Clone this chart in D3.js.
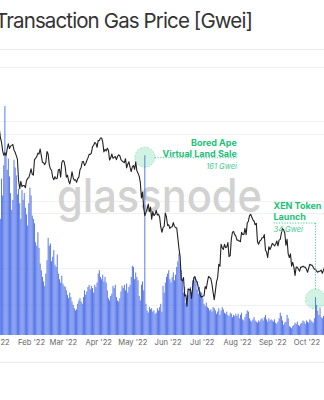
<!DOCTYPE html>
<html>
<head>
<meta charset="utf-8">
<script src="https://cdn.jsdelivr.net/npm/d3@7"></script>
<style>
  html, body { margin: 0; padding: 0; background: #fff; overflow: hidden; }
  svg { display: block; font-family: Inter, "Noto Sans", sans-serif; }
</style>
</head>
<body>
<svg id="chart" width="324" height="400"></svg>
<script>
// Daily mean transaction gas price [Gwei], one array per month (2022)
const gasJan = [128, 135, 122, 110, 104, 140, 125, 152, 205, 160, 148, 158, 142, 127, 112, 121, 157, 150, 143, 126, 131, 118, 104, 130, 121, 127, 114, 108, 98, 118, 132];
const gasFeb = [125, 107, 104, 100, 83, 80, 92, 78, 64, 58, 52, 48, 44, 55, 67, 87, 80, 82, 66, 70, 76, 63, 61, 72, 55, 50, 47, 53];
const gasMar = [46, 44, 43, 40, 36, 33, 38, 34, 30, 27, 24, 22, 23, 28, 31, 33, 30, 28, 34, 40, 36, 39, 43, 45, 41, 44, 42, 38, 45, 43, 47];
const gasApr = [55, 58, 52, 50, 54, 48, 52, 47, 40, 33, 31, 35, 37, 44, 42, 45, 34, 31, 30, 33, 39, 44, 42, 45, 40, 46, 38, 43, 45, 52];
const gasMay = [62, 61, 50, 56, 52, 49, 35, 31, 45, 48, 40, 161, 28, 22, 20, 25, 23, 24, 21, 22, 19, 20, 24, 22, 25, 28, 21, 44, 38, 47, 52];
const gasJun = [55, 58, 50, 47, 52, 56, 49, 54, 61, 66, 73, 64, 58, 49, 38, 43, 29, 34, 36, 41, 43, 38, 49, 52, 48, 50, 41, 37, 43, 39];
const gasJul = [38, 33, 28, 26, 29, 25, 24, 22, 23, 21, 25, 24, 22, 19, 21, 24, 18, 22, 25, 23, 20, 19, 21, 18, 17, 20, 19, 16, 18, 17, 19];
const gasAug = [17, 19, 15, 18, 20, 14, 13, 16, 19, 22, 21, 15, 13, 12, 14, 16, 13, 12, 11, 13, 12, 14, 15, 13, 16, 18, 14, 12, 15, 13, 14];
const gasSep = [13, 12, 14, 11, 10, 12, 15, 20, 17, 13, 9, 11, 12, 18, 15, 8, 7, 6, 8, 9, 11, 10, 12, 9, 8, 10, 11, 13, 12, 10];
const gasOct = [13, 12, 11, 14, 13, 12, 11, 15, 34, 27, 22, 18, 24, 16, 15, 17, 19];

// Daily ETH price [USD], one array per month (2022)
const ethJan = [3770, 3830, 3760, 3790, 3540, 3410, 3200, 3090, 3150, 3080, 3240, 3370, 3250, 3310, 3330, 3350, 3210, 3160, 3080, 3000, 2560, 2400, 2540, 2440, 2460, 2460, 2420, 2550, 2600, 2610, 2690];
const ethFeb = [2790, 2680, 2660, 2990, 3020, 3060, 3140, 3120, 3240, 3080, 2930, 2920, 2880, 2930, 3180, 3120, 2880, 2790, 2760, 2620, 2570, 2630, 2590, 2600, 2770, 2780, 2620, 2920];
const ethMar = [2970, 2950, 2830, 2620, 2660, 2550, 2490, 2580, 2730, 2610, 2560, 2570, 2520, 2590, 2620, 2770, 2820, 2940, 2950, 2860, 2900, 2970, 3030, 3110, 3110, 3140, 3300, 3330, 3400, 3380, 3280];
const ethApr = [3450, 3450, 3520, 3520, 3410, 3170, 3230, 3190, 3260, 3210, 2980, 3030, 3120, 3020, 3040, 3060, 2990, 3060, 3100, 3080, 2990, 2960, 2940, 2920, 3010, 2810, 2890, 2940, 2820, 2730];
const ethMay = [2830, 2860, 2780, 2940, 2750, 2700, 2640, 2520, 2240, 2340, 2080, 1960, 2010, 2060, 2140, 2020, 2090, 1910, 2020, 1960, 1980, 2040, 1970, 1980, 1940, 1800, 1730, 1790, 1810, 2000, 1940];
const ethJun = [1820, 1830, 1780, 1800, 1800, 1860, 1810, 1790, 1790, 1660, 1530, 1440, 1210, 1200, 1230, 1070, 1080, 990, 1130, 1120, 1130, 1050, 1140, 1220, 1240, 1200, 1190, 1140, 1100, 1070];
const ethJul = [1060, 1070, 1070, 1150, 1130, 1190, 1240, 1230, 1220, 1170, 1100, 1040, 1110, 1190, 1230, 1360, 1340, 1580, 1540, 1520, 1580, 1540, 1550, 1600, 1440, 1450, 1640, 1730, 1740, 1700, 1680];
const ethAug = [1630, 1630, 1620, 1610, 1730, 1700, 1700, 1780, 1700, 1850, 1880, 1960, 1980, 1940, 1900, 1880, 1830, 1850, 1610, 1580, 1620, 1630, 1660, 1660, 1700, 1510, 1490, 1430, 1550, 1520, 1550];
const ethSep = [1590, 1580, 1560, 1580, 1620, 1560, 1630, 1640, 1720, 1780, 1760, 1720, 1570, 1640, 1470, 1430, 1470, 1340, 1380, 1330, 1250, 1330, 1330, 1310, 1290, 1330, 1330, 1340, 1330, 1330];
const ethOct = [1310, 1280, 1320, 1360, 1350, 1350, 1330, 1310, 1310, 1290, 1280, 1290, 1290, 1300, 1270, 1300, 1330];

const gasTicks = [60, 120, 180, 240];
const priceTicks = [1000, 2000, 4000];
const titleText = "Transaction Gas Price [Gwei]";
const watermarkText = "glassnode";

// Annotated events: day, gas value and label lines
const events = [
  { date: "2022-05-12", value: 161, lines: ["Bored Ape", "Virtual Land Sale"], note: "161 Gwei", side: "left" },
  { date: "2022-10-09", value: 34, lines: ["XEN Token", "Launch"], note: "34 Gwei", side: "up" }
];

const startDay = Date.UTC(2022, 0, 1);
const gasAll = [].concat(gasJan, gasFeb, gasMar, gasApr, gasMay, gasJun, gasJul, gasAug, gasSep, gasOct);
const ethAll = [].concat(ethJan, ethFeb, ethMar, ethApr, ethMay, ethJun, ethJul, ethAug, ethSep, ethOct);
const data = gasAll.map((g, i) => ({ date: new Date(startDay + i * 864e5), gas: g, eth: ethAll[i] }));

const W = 324, H = 400;
const svg = d3.select("#chart");
svg.append("rect").attr("width", W).attr("height", H).attr("fill", "#fff");

const x = d3.scaleUtc()
  .domain([new Date(Date.UTC(2022, 0, 1)), new Date(Date.UTC(2022, 9, 1))])
  .range([-4.2, 306.4]);
const yGas = d3.scaleLinear().domain([0, 240]).range([335, 67]);
const yEth = d3.scaleLog().domain([1000, 4000]).range([305, 121]);

// Title and separators
svg.append("text")
  .attr("x", -5).attr("y", 28)
  .attr("font-size", 20.5).attr("fill", "#333")
  .attr("textLength", 258).attr("lengthAdjust", "spacing")
  .text(titleText);
svg.append("line").attr("x1", 0).attr("x2", W).attr("y1", 49.5).attr("y2", 49.5)
  .attr("stroke", "#ececec");
svg.append("line").attr("x1", 0).attr("x2", W).attr("y1", 362.5).attr("y2", 362.5)
  .attr("stroke", "#ececec");

// Gridlines
const grid = svg.append("g");
grid.selectAll("line.g").data(gasTicks).join("line")
  .attr("x1", 0).attr("x2", W)
  .attr("y1", d => Math.round(yGas(d)) + 0.5).attr("y2", d => Math.round(yGas(d)) + 0.5)
  .attr("stroke", "#f0f0f0");
grid.selectAll("line.p").data(priceTicks).join("line")
  .attr("x1", 0).attr("x2", W)
  .attr("y1", d => Math.round(yEth(d)) + 0.5).attr("y2", d => Math.round(yEth(d)) + 0.5)
  .attr("stroke", "#f0f0f0");

// Watermark, squeezed horizontally to the logo's width
const wm = svg.append("g");
const wmText = wm.append("text")
  .attr("font-size", 46).attr("font-weight", 500)
  .attr("fill", "#d2d2d2")
  .text(watermarkText);
const wmNatural = wmText.node().getComputedTextLength();
wm.attr("transform", `translate(57,212) scale(${205 / wmNatural},1)`);

// Bars
const step = x(new Date(startDay + 864e5)) - x(new Date(startDay));
const bw = step * 0.8;
svg.append("g").selectAll("rect").data(data).join("rect")
  .attr("x", d => x(d.date) - bw / 2)
  .attr("width", bw)
  .attr("y", d => yGas(d.gas))
  .attr("height", d => yGas(0) - yGas(d.gas))
  .attr("fill", "#4b6de8");

// Price line
svg.append("path")
  .datum(data)
  .attr("fill", "none")
  .attr("stroke", "#222")
  .attr("stroke-width", 1.1)
  .attr("stroke-linejoin", "round")
  .attr("d", d3.line().x(d => x(d.date)).y(d => yEth(d.eth)));

// X axis labels
const xAxis = svg.append("g").attr("transform", "translate(0,337)")
  .call(d3.axisBottom(x).ticks(d3.utcMonth.every(1)).tickFormat(d3.utcFormat("%b '%y")).tickSize(0).tickPadding(3));
xAxis.select(".domain").remove();
xAxis.selectAll("text").attr("font-size", 7.6).attr("fill", "#666").attr("font-family", "Inter, sans-serif");

// Annotations
const green = "#1dbf78";
const ann = svg.append("g");
events.forEach(ev => {
  const d = data.find(r => d3.utcFormat("%Y-%m-%d")(r.date) === ev.date);
  const cx = x(d.date), cy = yGas(d.gas);
  ann.append("circle").attr("cx", cx).attr("cy", cy + 2).attr("r", 10)
    .attr("fill", "rgba(29,191,120,0.2)")
    .attr("stroke", "rgba(29,191,120,0.35)").attr("stroke-dasharray", "2,1.5");
  if (ev.side === "left") {
    const tx = cx + 92;
    ann.append("line").attr("x1", cx + 10).attr("x2", tx).attr("y1", cy + 2.5).attr("y2", cy + 2.5)
      .attr("stroke", green).attr("stroke-dasharray", "1.2,1.5").attr("stroke-opacity", 0.8);
    ev.lines.forEach((t, i) => ann.append("text")
      .attr("x", tx).attr("y", cy - 9 + i * 10.5).attr("text-anchor", "end")
      .attr("font-size", 9).attr("font-weight", 700).attr("fill", green).text(t));
    ann.append("text").attr("x", tx).attr("y", cy + 13.5).attr("text-anchor", "end")
      .attr("font-size", 7.5).attr("font-style", "italic").attr("fill", "#47c98f").text(ev.note);
  } else {
    const ly = cy - 74;
    const tx = cx - 42;
    ann.append("line").attr("x1", cx).attr("x2", cx).attr("y1", cy - 8).attr("y2", ly)
      .attr("stroke", green).attr("stroke-dasharray", "1.2,1.5").attr("stroke-opacity", 0.8);
    ann.append("line").attr("x1", tx).attr("x2", cx).attr("y1", ly).attr("y2", ly)
      .attr("stroke", green).attr("stroke-dasharray", "1.2,1.5").attr("stroke-opacity", 0.8);
    ev.lines.forEach((t, i) => ann.append("text")
      .attr("x", tx).attr("y", ly - 14 + i * 10.5)
      .attr("font-size", 9).attr("font-weight", 700).attr("fill", green).text(t));
    ann.append("text").attr("x", tx).attr("y", ly + 9)
      .attr("font-size", 7.5).attr("font-style", "italic").attr("fill", "#47c98f").text(ev.note);
  }
});
</script>
</body>
</html>
